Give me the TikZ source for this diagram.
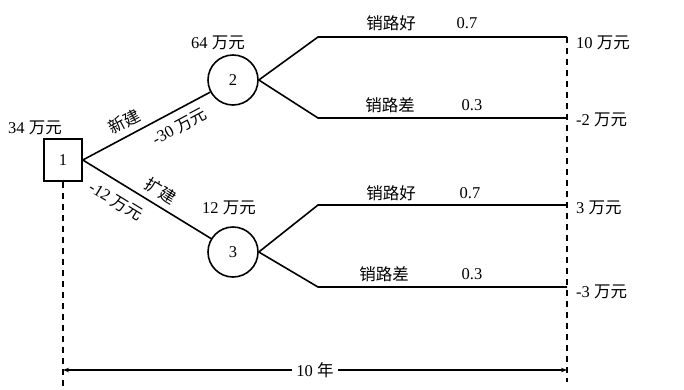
\documentclass[tikz,border=0pt]{standalone}
\usepackage{fontspec}
\setmainfont{Liberation Serif}
\newfontfamily\cjk{Noto Sans CJK SC}
\usetikzlibrary{arrows.meta,positioning,calc}

\begin{document}
\begin{tikzpicture}[
    x=1pt, y=-1pt,
    font=\fontsize{16.5}{18}\selectfont,
    every node/.style={inner sep=1pt},
    decision/.style={rectangle, draw, line width=1.6pt, minimum width=38pt, minimum height=42pt},
    chance/.style={circle, draw, line width=1.6pt, minimum size=50pt},
    branch/.style={line width=1.6pt},
    guide/.style={line width=1.3pt, dash pattern=on 6pt off 5pt},
    span/.style={{Stealth[length=6pt]}-{Stealth[length=6pt]}, line width=1.3pt}
  ]
    \useasboundingbox (0,0) rectangle (684,389);
    \node[decision] (d1) at (63,160) {1};
    \node[chance] (c2) at (233,80) {2};
    \node[chance] (c3) at (233,252) {3};
    \node (v1) at (35,128) {34 {\cjk 万元}};
    \node (v2) at (218,43) {64 {\cjk 万元}};
    \node (v3) at (229,208) {12 {\cjk 万元}};

    % decision branches
    \draw[branch] (d1.east) -- (c2)
      node[pos=0.38, above=5pt, sloped] (n1) {\cjk 新建}
      node[pos=0.7, below=7pt, sloped] (i1) {-30 {\cjk 万元}};
    \draw[branch] (d1.east) -- (c3)
      node[pos=0.55, above=5pt, sloped] (n2) {\cjk 扩建}
      node[pos=0.33, below=9pt, sloped] (i2) {-12 {\cjk 万元}};

    % chance branches: knee, end, level
    \foreach \n/\src/\y in {a/c2/37, b/c2/118, c/c3/205, d/c3/287} {
      \coordinate (k\n) at (318,\y);
      \coordinate (e\n) at (567,\y);
      \draw[branch] (\src.east) -- (k\n) -- (e\n);
    }

    \node (sa) at (391,23) {\cjk 销路好};  \node (qa) at (467,23) {0.7};
    \node (sb) at (390,105) {\cjk 销路差}; \node (qb) at (472,105) {0.3};
    \node (sc) at (391,193) {\cjk 销路好}; \node (qc) at (470,193) {0.7};
    \node (sd) at (384,274) {\cjk 销路差}; \node (qd) at (472,274) {0.3};

    \node[anchor=west] (pa) at (575,43) {10 {\cjk 万元}};
    \node[anchor=west] (pb) at (575,120) {-2 {\cjk 万元}};
    \node[anchor=west] (pc) at (575,208) {3 {\cjk 万元}};
    \node[anchor=west] (pd) at (575,292) {-3 {\cjk 万元}};

    % time span
    \coordinate (l0) at (63,389);
    \coordinate (r0) at (567,382);
    \coordinate (sl) at (63,370);
    \coordinate (sr) at (567,370);
    \draw[guide] (d1.south) -- (l0);
    \draw[guide] (ea) -- (r0);
    \draw[span] (sl) -- node[fill=white, inner sep=4pt] (t) {10 {\cjk 年}} (sr);
  \end{tikzpicture}
\end{document}
